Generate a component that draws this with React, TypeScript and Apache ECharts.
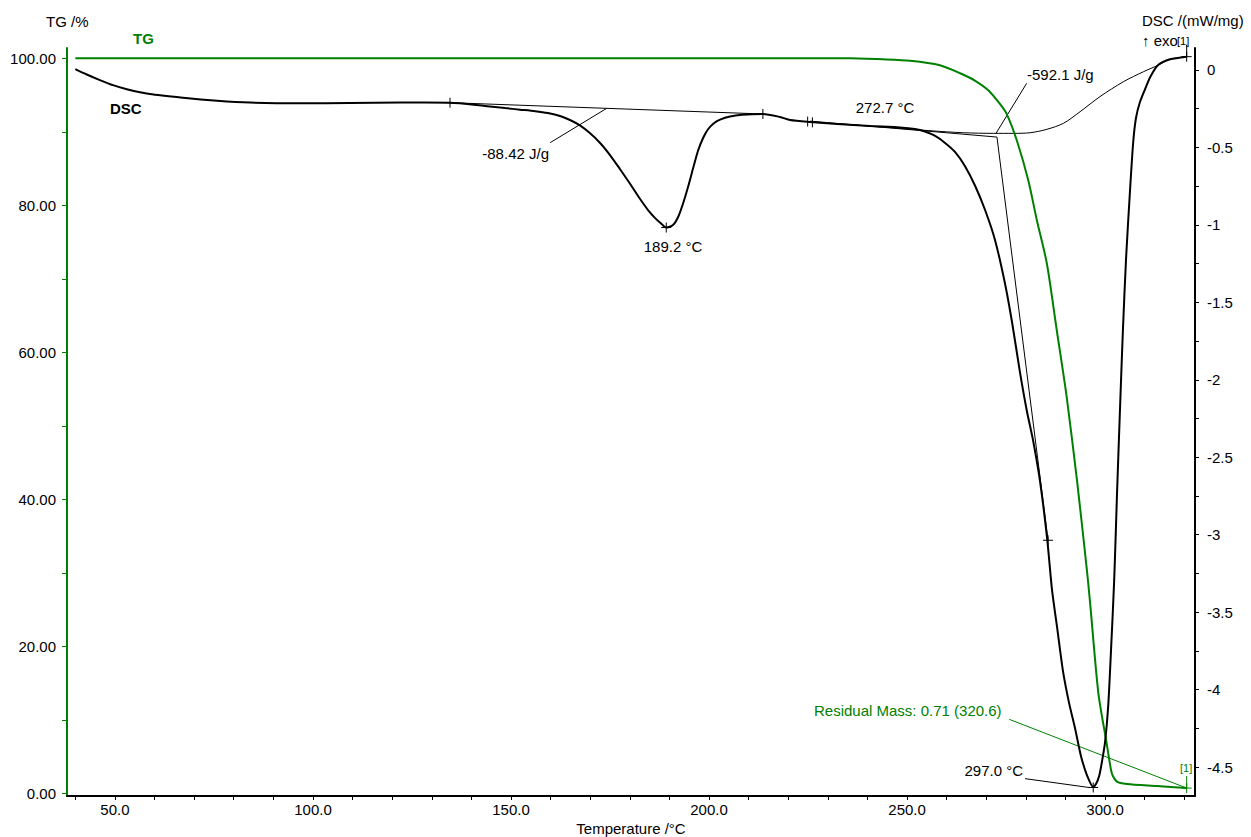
import React, { useEffect, useRef } from "react";
import * as echarts from "echarts";

const FONT = "'Liberation Sans', Arial, Helvetica, sans-serif";
const GREEN = "#008000";
const BLACK = "#000000";

// ---- axis definitions ----
const xTickValues = [40, 50, 60, 70, 80, 90, 100, 110, 120, 130, 140, 150, 160, 170, 180, 190, 200, 210, 220, 230, 240, 250, 260, 270, 280, 290, 300, 310, 320];
const xLabelValues = [50, 100, 150, 200, 250, 300];
const tgTickValues = [0, 10, 20, 30, 40, 50, 60, 70, 80, 90, 100];
const tgLabelValues = [0, 20, 40, 60, 80, 100];
const dscTickValues = [0, -0.25, -0.5, -0.75, -1, -1.25, -1.5, -1.75, -2, -2.25, -2.5, -2.75, -3, -3.25, -3.5, -3.75, -4, -4.25, -4.5];
const dscLabelValues = [0, -0.5, -1, -1.5, -2, -2.5, -3, -3.5, -4, -4.5];

// ---- DSC curve (mW/mg) ----
const dscTemp = [
  40.0, 42.9, 46.2, 49.5, 53.0, 58.8, 67.2, 75.8, 84.1, 96.7, 109.3, 122.0, 134.6,
  143.4, 148.5, 152.3, 156.1, 159.3, 162.4, 164.9, 167.4, 169.9, 172.5, 175.0, 177.5, 180.1, 182.6,
  184.6, 186.4, 187.9, 189.2, 190.9, 192.2, 193.4, 194.7, 196.0, 197.2, 198.5, 199.8, 201.3, 202.8,
  205.3, 208.3, 213.6, 217.9, 220.5, 225.5, 232.3, 240.7,
  248.2, 252.0, 254.5, 257.1, 259.6, 262.1, 264.6, 267.2, 269.7, 272.2, 274.7, 276.5, 278.5, 280.3,
  281.8, 283.6, 285.4, 286.6, 287.9, 289.4, 290.9, 292.4, 293.9, 295.5, 297.0,
  297.7, 298.5, 299.2, 300.0, 300.8, 301.5, 302.3, 303.0, 303.8, 304.5, 305.3, 306.3, 307.1, 307.8,
  308.8, 310.1, 311.4, 313.4, 316.4, 320.6,
];
const dscValue = [
  0.006, -0.029, -0.065, -0.098, -0.124, -0.155, -0.179, -0.198, -0.21, -0.215, -0.213, -0.21, -0.211,
  -0.232, -0.246, -0.256, -0.266, -0.278, -0.297, -0.323, -0.358, -0.407, -0.471, -0.549, -0.639, -0.736, -0.833,
  -0.904, -0.956, -0.991, -1.017, -1.001, -0.949, -0.865, -0.755, -0.633, -0.523, -0.439, -0.381, -0.342, -0.32,
  -0.3, -0.289, -0.284, -0.303, -0.323, -0.336, -0.349, -0.362,
  -0.371, -0.381, -0.397, -0.426, -0.471, -0.529, -0.62, -0.749, -0.904, -1.097, -1.375, -1.627, -1.95, -2.208,
  -2.389, -2.66, -3.034, -3.357, -3.602, -3.886, -4.086, -4.248, -4.428, -4.558, -4.629,
  -4.61, -4.558, -4.467, -4.338, -4.1, -3.744, -3.292, -2.744, -2.163, -1.679, -1.214, -0.775, -0.465, -0.31,
  -0.207, -0.123, -0.045, 0.032, 0.069, 0.086,
];

// ---- thin sigmoidal baseline under the second peak ----
const sigTemp = [225.5, 240.7, 255.8, 264.2, 271.8, 276.9, 281.1, 285.3, 289.5, 293.7, 298.7, 304.6, 309.7, 313.5, 316.4, 320.6];
const sigValue = [-0.336, -0.362, -0.392, -0.405, -0.409, -0.409, -0.405, -0.383, -0.344, -0.269, -0.172, -0.076, -0.011, 0.032, 0.069, 0.086];

// ---- TG curve (%) ----
const tgTemp = [40, 100, 150, 200, 227, 235.6, 243.9, 250.8, 258.3, 263.4, 267.2, 270.5, 273.5, 275.2, 277.7, 280.6, 282.8, 285.3, 287.8, 290.3, 292.9, 295.4, 296.2, 298.3, 300.4, 301.7, 303.0, 305.5, 313.1, 320.6];
const tgValue = [100.0, 100.0, 100.0, 100.0, 100.0, 100.0, 99.86, 99.66, 99.05, 97.96, 96.94, 95.65, 93.75, 92.38, 88.85, 83.4, 77.9, 72.08, 63.0, 53.93, 42.6, 30.4, 26.0, 13.64, 6.8, 2.72, 1.58, 1.26, 0.99, 0.71];

// ---- evaluation lines (DSC axis) ----
const baseline1Temp = [134.6, 213.6];
const baseline1Value = [-0.211, -0.284];
const onsetTemp = [225.5, 272.7, 285.6];
const onsetValue = [-0.33, -0.433, -3.036];
const leader1Temp = [159.9, 174.2];
const leader1Value = [-0.469, -0.247];
const leader2Temp = [280.2, 272.5];
const leader2Value = [-0.086, -0.407];
const leader3Temp = [279.8, 296.2];
const leader3Value = [-4.575, -4.633];
// ---- residual mass leader (TG axis) ----
const leader4Temp = [275.8, 320.6];
const leader4Value = [10.06, 0.71];

// ---- markers: [T, value, kind] kind 0 = cross, 1 = tick, 2 = cross with pointer ----
const dscMarkers = [
  [134.6, -0.211, 0],
  [189.2, -1.017, 0],
  [213.6, -0.284, 1],
  [224.9, -0.333, 1],
  [226.1, -0.338, 1],
  [285.6, -3.036, 0],
  [297.0, -4.632, 0],
  [320.6, 0.086, 2],
];
const tgMarkers = [[320.6, 0.71, 2]];

const zip = (a: number[], b: number[]) => a.map((t, i) => [t, b[i]]);

const thin = (name: string, data: number[][], yAxisIndex: number, color: string) => ({
  name,
  type: "line",
  yAxisIndex,
  data,
  showSymbol: false,
  silent: true,
  lineStyle: { color, width: 1 },
  z: 3,
});

const markerRenderer = (color: string) => (params: any, api: any) => {
  const p = api.coord([api.value(0), api.value(1)]);
  const kind = api.value(2);
  const st = { stroke: color, lineWidth: 1 };
  const children: any[] = [
    { type: "line", shape: { x1: p[0], y1: p[1] - 5, x2: p[0], y2: p[1] + 5 }, style: st },
  ];
  if (kind !== 1) {
    children.push({ type: "line", shape: { x1: p[0] - 5, y1: p[1], x2: p[0] + 5, y2: p[1] }, style: st });
  }
  if (kind === 2) {
    children.push({ type: "line", shape: { x1: p[0], y1: p[1] - 12, x2: p[0], y2: p[1] }, style: st });
  }
  return { type: "group", children };
};

const txt = (text: string, x: number, y: number, align: string, opts: any = {}) => ({
  type: "text",
  x,
  y,
  silent: true,
  style: {
    text,
    fill: opts.color || BLACK,
    font: `${opts.weight || "normal"} ${opts.size || 15}px ${FONT}`,
    textAlign: align,
    textVerticalAlign: "middle",
    align,
    verticalAlign: "middle",
  },
});

export default function App() {
  const ref = useRef<HTMLDivElement>(null);

  useEffect(() => {
    document.body.style.margin = "0";
    if (!ref.current) return;
    const chart = echarts.init(ref.current, null, { renderer: "svg" });

    const labelStyle = { fontSize: 15, color: BLACK, fontFamily: FONT };

    chart.setOption({
      animation: false,
      backgroundColor: "#ffffff",
      grid: { left: 67, right: 56, top: 48, bottom: 41, containLabel: false },
      xAxis: {
        type: "value",
        min: 37.9,
        max: 322.7,
        axisLine: { show: true, onZero: false, lineStyle: { color: BLACK, width: 2 } },
        axisTick: { show: true, customValues: xTickValues, length: 4, lineStyle: { color: BLACK, width: 1 } },
        axisLabel: { ...labelStyle, customValues: xLabelValues, margin: 6, formatter: (v: number) => v.toFixed(1) },
        splitLine: { show: false },
      },
      yAxis: [
        {
          type: "value",
          position: "left",
          min: -0.37,
          max: 101.4,
          axisLine: { show: true, onZero: false, lineStyle: { color: GREEN, width: 2 } },
          axisTick: { show: true, customValues: tgTickValues, length: 5, lineStyle: { color: GREEN, width: 1 } },
          axisLabel: { ...labelStyle, customValues: tgLabelValues, margin: 11, formatter: (v: number) => v.toFixed(2) },
          splitLine: { show: false },
        },
        {
          type: "value",
          position: "right",
          min: -4.687,
          max: 0.142,
          axisLine: { show: true, onZero: false, lineStyle: { color: BLACK, width: 2 } },
          axisTick: { show: true, customValues: dscTickValues, length: 4, lineStyle: { color: BLACK, width: 1 } },
          axisLabel: { ...labelStyle, customValues: dscLabelValues, margin: 12, formatter: (v: number) => String(v) },
          splitLine: { show: false },
        },
      ],
      series: [
        {
          name: "TG",
          type: "line",
          yAxisIndex: 0,
          data: zip(tgTemp, tgValue),
          showSymbol: false,
          smooth: 0.25,
          silent: true,
          lineStyle: { color: GREEN, width: 2 },
          z: 4,
        },
        {
          name: "DSC",
          type: "line",
          yAxisIndex: 1,
          data: zip(dscTemp, dscValue),
          showSymbol: false,
          smooth: 0.25,
          silent: true,
          lineStyle: { color: BLACK, width: 2 },
          z: 5,
        },
        { ...thin("sigmoid", zip(sigTemp, sigValue), 1, BLACK), smooth: 0.3 },
        thin("baseline1", zip(baseline1Temp, baseline1Value), 1, BLACK),
        thin("onset", zip(onsetTemp, onsetValue), 1, BLACK),
        thin("leader1", zip(leader1Temp, leader1Value), 1, BLACK),
        thin("leader2", zip(leader2Temp, leader2Value), 1, BLACK),
        thin("leader3", zip(leader3Temp, leader3Value), 1, BLACK),
        thin("leader4", zip(leader4Temp, leader4Value), 0, GREEN),
        {
          name: "dscMarkers",
          type: "custom",
          yAxisIndex: 1,
          data: dscMarkers,
          encode: { x: 0, y: 1 },
          renderItem: markerRenderer(BLACK),
          silent: true,
          z: 6,
        },
        {
          name: "tgMarkers",
          type: "custom",
          yAxisIndex: 0,
          data: tgMarkers,
          encode: { x: 0, y: 1 },
          renderItem: markerRenderer(GREEN),
          silent: true,
          z: 6,
        },
      ],
      graphic: [
        txt("TG /%", 46, 21, "left"),
        txt("TG", 133, 38, "left", { color: GREEN, weight: "bold" }),
        txt("DSC", 110, 108, "left", { weight: "bold" }),
        txt("DSC /(mW/mg)", 1142, 20, "left"),
        txt("\u2191 exo", 1142, 40, "left"),
        txt("[1]", 1177, 41, "left", { size: 11 }),
        txt("-88.42 J/g", 549, 153, "right"),
        txt("189.2 \u00b0C", 673, 246, "center"),
        txt("272.7 \u00b0C", 885, 107, "center"),
        txt("-592.1 J/g", 1027, 74, "left"),
        txt("297.0 \u00b0C", 1023, 770, "right"),
        txt("Residual Mass: 0.71 (320.6)", 814, 710, "left", { color: GREEN }),
        txt("[1]", 1180, 768, "left", { color: GREEN, size: 11 }),
        txt("Temperature /\u00b0C", 631, 828, "center"),
      ],
    });

    return () => chart.dispose();
  }, []);

  return <div ref={ref} style={{ width: 1251, height: 837 }} />;
}
